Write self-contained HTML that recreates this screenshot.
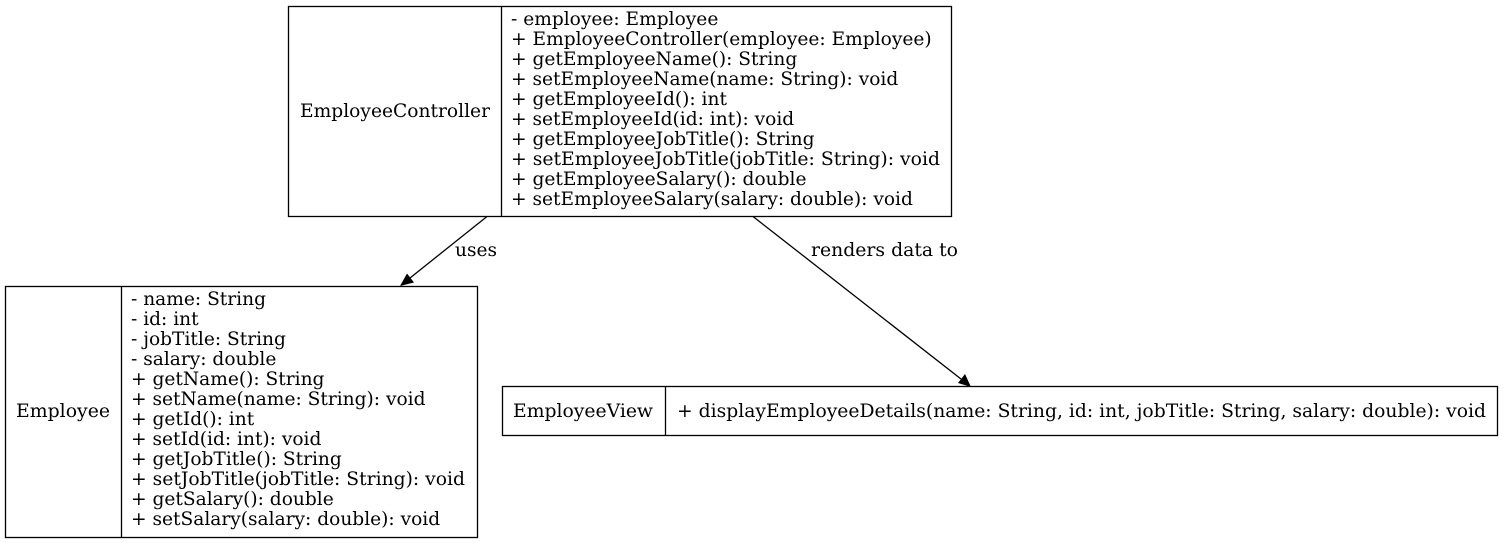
<!DOCTYPE html>
<html><head><style>
html,body{margin:0;padding:0;background:#fff;}
svg{display:block;}
text{font-family:"DejaVu Serif",serif;font-size:18.6px;fill:#000;}
</style></head><body>
<svg width="1503" height="543" viewBox="0 0 1503 543" xmlns="http://www.w3.org/2000/svg">
<g fill="none" stroke="#000" stroke-width="1.3">
<rect x="288.5" y="6.5" width="663" height="210"/>
<line x1="501.5" y1="6.5" x2="501.5" y2="216.5"/>
<rect x="5.5" y="286.5" width="472" height="251"/>
<line x1="121.5" y1="286.5" x2="121.5" y2="537.5"/>
<rect x="502.5" y="386.5" width="995" height="49"/>
<line x1="665.5" y1="386.5" x2="665.5" y2="435.5"/>
<line x1="487" y1="216.5" x2="410" y2="278"/>
<line x1="753" y1="216.5" x2="961" y2="379"/>
</g>
<polygon points="400,286 407,273.5 414,282.5" fill="#000"/>
<polygon points="971,387 958,383 965,374" fill="#000"/>
<text x="455" y="256" textLength="42" lengthAdjust="spacingAndGlyphs">uses</text>
<text x="811" y="256" textLength="147" lengthAdjust="spacingAndGlyphs">renders data to</text>
<text x="300" y="117" textLength="190" lengthAdjust="spacingAndGlyphs">EmployeeController</text>
<g>
<text x="511" y="25">- employee: Employee</text>
<text x="511" y="45">+ EmployeeController(employee: Employee)</text>
<text x="511" y="65">+ getEmployeeName(): String</text>
<text x="511" y="85">+ setEmployeeName(name: String): void</text>
<text x="511" y="105">+ getEmployeeId(): int</text>
<text x="511" y="125">+ setEmployeeId(id: int): void</text>
<text x="511" y="145">+ getEmployeeJobTitle(): String</text>
<text x="511" y="165" textLength="429" lengthAdjust="spacingAndGlyphs">+ setEmployeeJobTitle(jobTitle: String): void</text>
<text x="511" y="185">+ getEmployeeSalary(): double</text>
<text x="511" y="205">+ setEmployeeSalary(salary: double): void</text>
</g>
<text x="16" y="417" textLength="94" lengthAdjust="spacingAndGlyphs">Employee</text>
<g>
<text x="131" y="305">- name: String</text>
<text x="131" y="325">- id: int</text>
<text x="131" y="345">- jobTitle: String</text>
<text x="131" y="365">- salary: double</text>
<text x="131" y="385">+ getName(): String</text>
<text x="131" y="405">+ setName(name: String): void</text>
<text x="131" y="425">+ getId(): int</text>
<text x="131" y="445">+ setId(id: int): void</text>
<text x="131" y="465">+ getJobTitle(): String</text>
<text x="131" y="485" textLength="334" lengthAdjust="spacingAndGlyphs">+ setJobTitle(jobTitle: String): void</text>
<text x="131" y="505">+ getSalary(): double</text>
<text x="131" y="525">+ setSalary(salary: double): void</text>
</g>
<text x="513" y="417" textLength="140" lengthAdjust="spacingAndGlyphs">EmployeeView</text>
<text x="677" y="417" textLength="809" lengthAdjust="spacingAndGlyphs">+ displayEmployeeDetails(name: String, id: int, jobTitle: String, salary: double): void</text>
</svg>
</body></html>
